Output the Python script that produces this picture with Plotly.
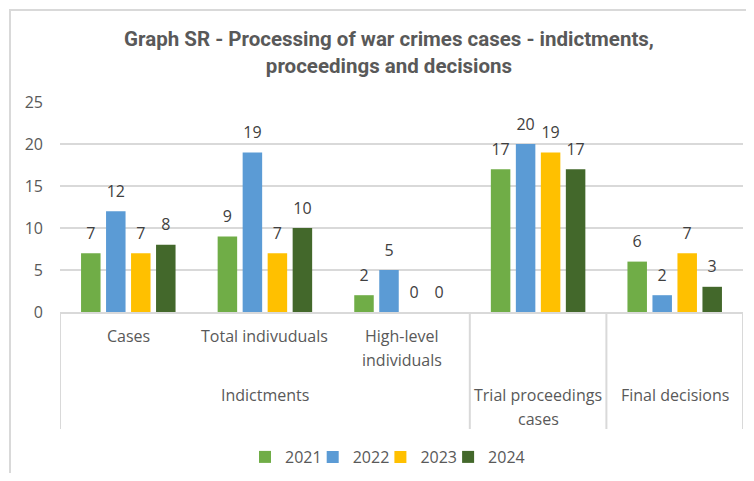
import plotly.graph_objects as go

categories = ["Cases", "Total indivuduals", "High-level<br>individuals",
              "Trial proceedings<br>cases", "Final decisions"]
# row level for each category label: 1 = first row under axis, 2 = second row
cat_row = [1, 1, 1, 2, 2]
groups = ["Indictments"]
group_span = [(0, 2)]
years = ["2021", "2022", "2023", "2024"]
v2021 = [7, 9, 2, 17, 6]
v2022 = [12, 19, 5, 20, 2]
v2023 = [7, 7, 0, 19, 7]
v2024 = [8, 10, 0, 17, 3]
series = [v2021, v2022, v2023, v2024]
colors = ["#70AD47", "#5B9BD5", "#FFC000", "#43682B"]
y_ticks = [0, 5, 10, 15, 20, 25]

OFF = 8                      # page body margin
W, H = 754 - 2 * OFF, 481 - 2 * OFF
# plot area in page pixels: x 60..743, y 102..312
ML, MT = 60 - OFF, 102 - OFF
MR, MB = W - (743 - OFF), H - (312 - OFF)
plot_w = W - ML - MR
plot_h = H - MT - MB
FONT = "Open Sans"
GREY = "#595959"
LINE = "#D9D9D9"


def py(page_y):
    return (MT + plot_h - (page_y - OFF)) / plot_h


def px(page_x):
    return (page_x - OFF - ML) / plot_w


legend_ids = ["legend"] + ["legend%d" % (i + 1) for i in range(1, len(years))]

x_idx = list(range(len(categories)))
fig = go.Figure()
for yr, vals, col, lid in zip(years, series, colors, legend_ids):
    fig.add_trace(go.Bar(x=x_idx, y=vals, name=yr, marker_color=col,
                         marker_line_width=0, offsetgroup=yr, legend=lid))
for yr, vals in zip(years, series):
    fig.add_trace(go.Scatter(x=x_idx, y=vals, mode="markers+text", text=[str(v) for v in vals],
                             textposition="top center", offsetgroup=yr,
                             marker=dict(size=15, opacity=0), showlegend=False,
                             textfont=dict(size=16, color="#404040", family=FONT),
                             hoverinfo="skip", cliponaxis=False))

ann = []
row_y = {1: 336, 2: 395}
for i, (lab, r) in enumerate(zip(categories, cat_row)):
    for k, line in enumerate(lab.split("<br>")):
        ann.append(dict(x=i, y=py(row_y[r] + 23.5 * k), xref="x", yref="paper", text=line,
                        showarrow=False, yanchor="middle",
                        font=dict(size=16, color=GREY, family=FONT)))
for g, (a, b) in zip(groups, group_span):
    ann.append(dict(x=(a + b) / 2, y=py(395), xref="x", yref="paper", text=g,
                    showarrow=False, yanchor="middle",
                    font=dict(size=16, color=GREY, family=FONT)))

shapes = []
seps = [-0.5] + [b + 0.5 for (_, b) in group_span] + [i + 0.5 for i, r in enumerate(cat_row) if r == 2]
for s in sorted(set(seps)):
    shapes.append(dict(type="line", xref="x", yref="paper", x0=s, x1=s, y0=0, y1=py(429),
                       line=dict(color=LINE, width=2)))
# chart border (left and top edges visible)
shapes.append(dict(type="rect", xref="paper", yref="paper",
                   x0=px(10), x1=px(770), y0=py(500), y1=py(10),
                   line=dict(color=LINE, width=2), layer="below"))

legend_layouts = {}
LEG_X0, LEG_PITCH = 245, 67.7
for i, lid in enumerate(legend_ids):
    legend_layouts[lid] = dict(orientation="h", xref="paper", x=px(LEG_X0 + i * LEG_PITCH),
                               xanchor="left", yref="paper", y=py(457), yanchor="middle",
                               bgcolor="rgba(0,0,0,0)", borderwidth=0,
                               font=dict(size=16, color=GREY, family=FONT), itemwidth=30)

fig.update_layout(
    width=W, height=H,
    margin=dict(l=ML, r=MR, t=MT, b=MB, autoexpand=False),
    paper_bgcolor="white", plot_bgcolor="white",
    barmode="group", bargap=0.268, bargroupgap=0.22,
    scattermode="group", scattergap=0.268,
    title=dict(text="<b>Graph SR - Processing of war crimes cases - indictments,<br>proceedings and decisions</b>",
               xref="container", x=(389 - OFF) / W, xanchor="center",
               yref="container", y=1 - (54.5 - OFF - 8.5) / H, yanchor="middle",
               font=dict(size=20.5, color=GREY, family="Roboto")),
    xaxis=dict(range=[-0.5, len(categories) - 0.5], showticklabels=False, showgrid=False,
               zeroline=False, showline=True, linecolor=LINE, linewidth=2, ticks=""),
    yaxis=dict(range=[0, 25], tickvals=y_ticks, showgrid=True, gridcolor=LINE, gridwidth=2,
               zeroline=False, showline=False, ticks="", ticklabelstandoff=16,
               tickfont=dict(size=16, color=GREY, family=FONT)),
    annotations=ann, shapes=shapes, showlegend=True,
    **legend_layouts,
)

fig.write_html("out.html")
